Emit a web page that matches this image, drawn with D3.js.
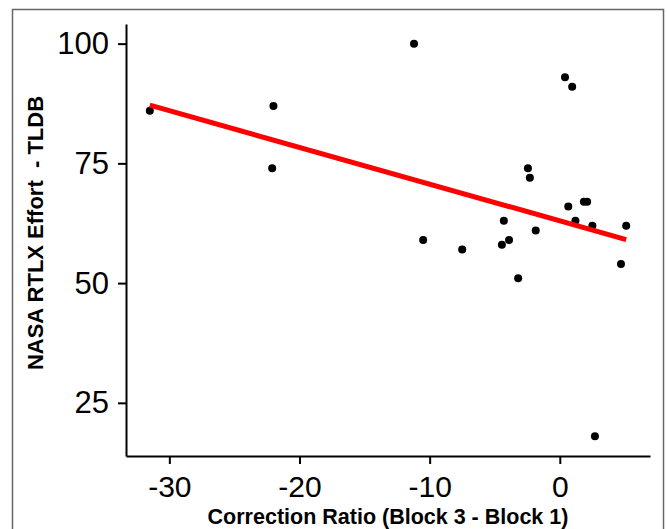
<!DOCTYPE html>
<html>
<head>
<meta charset="utf-8">
<script src="https://cdn.jsdelivr.net/npm/d3@7"></script>
<style>
  body { margin: 0; background: #fff; }
  svg { display: block; font-family: "Liberation Sans", Arial, sans-serif; }
</style>
</head>
<body>
<svg id="chart"></svg>
<script>
// values
const ratio  = [-31.5, -22.0, -22.1, -11.2, -10.5, -7.5, -2.45, -2.3, -4.3, -1.85, -3.9, -4.45, -3.2, 0.65, 1.85, 2.1, 1.2, 2.5, 5.1, 4.7, 0.4, 0.95, 2.7]
const effort = [86, 87, 74, 100, 59, 57, 74, 72, 63, 61, 59, 58, 51, 66, 67, 67, 63, 62, 62, 54, 93, 91, 18]
// linear fit (intercept, slope)
const fit = [63.0, -0.767]
const xTicks = [-30, -20, -10, 0]
const yTicks = [25, 50, 75, 100]

const W = 667, H = 529
const svg = d3.select('#chart').attr('width', W).attr('height', H)

// outer frame
svg.append('rect')
  .attr('x', 12.5).attr('y', 9.5)
  .attr('width', 651).attr('height', 530)
  .attr('fill', 'none')
  .attr('stroke', '#666')
  .attr('stroke-width', 1.5)

const mLeft = 126, mRight = 650, mTop = 24, mBottom = 456

// ggplot style 5% padding
const xr = d3.extent(ratio), yr = d3.extent(effort)
const xp = (xr[1] - xr[0]) * 0.05, yp = (yr[1] - yr[0]) * 0.05
const x = d3.scaleLinear().domain([xr[0] - xp, xr[1] + xp]).range([mLeft, mRight])
const y = d3.scaleLinear().domain([yr[0] - yp, yr[1] + yp]).range([mBottom, mTop])

const fmt = d => String(d)

const xAxis = svg.append('g')
  .attr('transform', `translate(0, ${mBottom})`)
  .call(d3.axisBottom(x).tickValues(xTicks).tickFormat(fmt).tickSize(8).tickPadding(12).tickSizeOuter(0))
xAxis.selectAll('text').attr('font-size', 30).attr('fill', '#000').attr('font-family', '"Liberation Sans", Arial, sans-serif')

const yAxis = svg.append('g')
  .attr('transform', `translate(${mLeft}, 0)`)
  .call(d3.axisLeft(y).tickValues(yTicks).tickFormat(fmt).tickSize(8).tickPadding(9).tickSizeOuter(0))
yAxis.selectAll('text').attr('font-size', 31).attr('fill', '#000').attr('font-family', '"Liberation Sans", Arial, sans-serif')

svg.selectAll('.domain, .tick line').attr('stroke', '#000').attr('stroke-width', 2)

// points
svg.append('g').selectAll('circle')
  .data(ratio)
  .enter().append('circle')
  .attr('cx', d => x(d))
  .attr('cy', (d, i) => y(effort[i]))
  .attr('r', 4)
  .attr('fill', '#000')

// regression line over the data range
const line = d3.line().x(d => x(d)).y(d => y(fit[0] + fit[1] * d))
svg.append('path')
  .datum(xr)
  .attr('d', line)
  .attr('fill', 'none')
  .attr('stroke', '#ff0000')
  .attr('stroke-width', 5)

// axis titles
svg.append('text')
  .attr('x', (mLeft + mRight) / 2)
  .attr('y', 524)
  .attr('text-anchor', 'middle')
  .attr('font-size', 21.5)
  .attr('font-weight', 'bold')
  .text('Correction Ratio (Block 3 - Block 1)')

svg.append('text')
  .attr('transform', 'translate(43, 233) rotate(-90)')
  .attr('text-anchor', 'middle')
  .attr('font-size', 22)
  .attr('font-weight', 'bold')
  .style('white-space', 'pre')
  .text('NASA RTLX Effort  - TLDB')
</script>
</body>
</html>
